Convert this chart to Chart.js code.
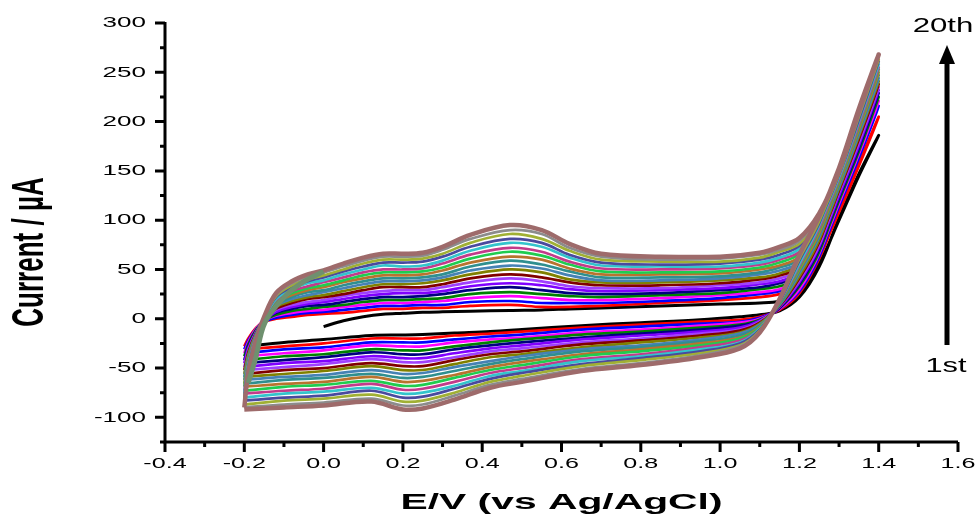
<!DOCTYPE html>
<html>
<head>
<meta charset="utf-8">
<script src="https://cdn.jsdelivr.net/npm/chart.js@4/dist/chart.umd.min.js"></script>
<style>
  html, body { margin: 0; padding: 0; background: #fff; }
  #cv { display: block; }
</style>
</head>
<body>
<canvas id="cv" width="979" height="516"></canvas>
<script>
// potentials (V) for the forward (anodic) sweep and the reverse (cathodic) sweep
const forwardPotentials = [-0.2, -0.19, -0.17, -0.15, -0.12, -0.08, -0.04, 0.0, 0.05, 0.1, 0.15, 0.2, 0.25, 0.3,
    0.37, 0.47, 0.55, 0.62, 0.7, 0.85, 1.0, 1.1, 1.15, 1.2, 1.25, 1.3, 1.35, 1.4];
const reversePotentials = [1.35, 1.3, 1.25, 1.2, 1.15, 1.1, 1.05, 0.95, 0.8, 0.65, 0.5, 0.42, 0.33, 0.25, 0.2,
    0.12, 0.0, -0.1, -0.2];

// current (uA) of each cycle, 1st to 20th, forward sweep
const forwardCurrents = [
    [null, null, null, null, null, null, null, -8, -2, 2, 4.5, 5.5, 6.5, 7, 7.5, 8.5, 9, 10, 11, 13, 15, 16, 18, 27, 56, 100, 145, 186],
    [-28, -20, -9, -3, 0, 2, 4, 5, 6, 8, 10, 10, 11, 11, 13, 14, 12, 12, 13, 16, 19, 22, 25, 33, 64, 108, 155, 205],
    [-31, -22, -10, -3, 1, 4, 6, 7, 9, 11, 13, 13, 14, 14, 17, 18, 16, 16, 16, 18, 21, 25, 28, 36, 66, 114, 163, 216],
    [-35, -24, -10, -2, 3, 6, 8, 9, 12, 14, 16, 16, 17, 18, 21, 23, 21, 19, 19, 21, 24, 27, 30, 38, 69, 117, 167, 221],
    [-38, -26, -11, -2, 4, 8, 10, 12, 14, 17, 19, 19, 20, 21, 25, 27, 25, 23, 22, 24, 26, 30, 33, 41, 71, 120, 170, 225],
    [-42, -28, -12, -2, 6, 10, 13, 14, 17, 20, 22, 22, 23, 25, 29, 32, 29, 26, 25, 26, 29, 32, 36, 44, 74, 123, 173, 229],
    [-45, -30, -13, -2, 7, 12, 15, 17, 20, 23, 25, 26, 26, 28, 33, 36, 34, 30, 28, 29, 31, 35, 38, 47, 76, 125, 176, 232],
    [-49, -32, -13, -1, 9, 14, 17, 19, 23, 26, 28, 29, 29, 32, 37, 41, 38, 33, 31, 31, 34, 37, 41, 49, 78, 128, 179, 235],
    [-52, -34, -14, -1, 10, 16, 20, 22, 25, 29, 32, 32, 32, 35, 41, 45, 42, 37, 34, 34, 36, 40, 44, 52, 81, 130, 182, 238],
    [-56, -36, -15, -1, 12, 18, 22, 24, 28, 32, 35, 35, 36, 39, 45, 50, 47, 40, 37, 37, 39, 42, 46, 55, 83, 132, 185, 241],
    [-59, -38, -15, 0, 13, 20, 24, 27, 31, 35, 38, 38, 39, 42, 49, 54, 51, 44, 39, 39, 41, 45, 49, 57, 86, 134, 187, 244],
    [-62, -40, -16, 0, 14, 22, 27, 29, 34, 38, 41, 41, 42, 45, 53, 59, 55, 48, 42, 42, 43, 47, 52, 60, 88, 136, 190, 247],
    [-66, -41, -17, 0, 16, 24, 29, 32, 37, 41, 44, 44, 45, 49, 57, 63, 60, 51, 45, 45, 46, 50, 54, 63, 90, 138, 192, 250],
    [-69, -43, -18, 0, 17, 26, 31, 34, 39, 44, 47, 47, 48, 52, 61, 68, 64, 55, 48, 47, 48, 52, 57, 66, 93, 140, 195, 253],
    [-73, -45, -18, 1, 19, 28, 33, 37, 42, 47, 50, 50, 51, 56, 65, 72, 68, 58, 51, 50, 51, 55, 60, 68, 95, 142, 197, 255],
    [-76, -47, -19, 1, 20, 30, 36, 39, 45, 50, 54, 53, 54, 59, 69, 77, 73, 62, 54, 53, 53, 57, 62, 71, 98, 144, 200, 258],
    [-80, -49, -20, 1, 22, 32, 38, 42, 48, 53, 57, 57, 58, 63, 73, 81, 77, 65, 57, 55, 56, 60, 65, 74, 100, 146, 202, 261],
    [-83, -51, -21, 1, 23, 34, 40, 44, 50, 56, 60, 60, 61, 66, 77, 86, 81, 69, 60, 58, 58, 62, 68, 76, 102, 147, 205, 263],
    [-87, -53, -21, 2, 24, 36, 43, 47, 53, 59, 63, 63, 64, 70, 81, 90, 86, 72, 63, 60, 61, 65, 70, 79, 105, 149, 207, 266],
    [-90, -55, -22, 2, 26, 38, 45, 49, 56, 62, 66, 66, 67, 73, 85, 95, 90, 76, 66, 63, 63, 67, 73, 82, 107, 150, 210, 268]
];

// current (uA) of each cycle, 1st to 20th, reverse sweep
const reverseCurrents = [
    [147, 102, 53, 22, 8, 4, 2, -1, -4, -7, -11, -13, -14.5, -16, -16.5, -17, -21, -24, -28],
    [158, 111, 61, 26, 9, 2, -1, -3, -6, -9, -13, -15, -17, -20, -20, -20, -25, -28, -31],
    [166, 117, 63, 28, 10, 1, -3, -5, -8, -11, -16, -18, -21, -24, -24, -24, -29, -31, -35],
    [170, 120, 66, 30, 10, 0, -4, -7, -11, -14, -19, -21, -24, -28, -28, -27, -32, -35, -38],
    [173, 123, 68, 33, 11, -1, -6, -9, -13, -16, -21, -24, -28, -32, -32, -31, -36, -38, -42],
    [176, 126, 71, 35, 11, -2, -7, -11, -15, -19, -24, -27, -31, -36, -36, -34, -39, -42, -45],
    [179, 128, 73, 37, 12, -2, -9, -13, -17, -21, -27, -30, -35, -40, -40, -38, -43, -45, -49],
    [182, 131, 75, 39, 13, -3, -11, -15, -20, -24, -30, -33, -39, -44, -44, -41, -46, -49, -52],
    [185, 133, 78, 41, 13, -4, -12, -17, -22, -26, -33, -36, -42, -48, -48, -45, -50, -52, -56],
    [188, 135, 80, 43, 14, -5, -14, -19, -24, -29, -36, -39, -46, -52, -52, -48, -53, -56, -59],
    [190, 137, 83, 46, 14, -6, -15, -21, -27, -31, -38, -43, -49, -55, -56, -52, -57, -59, -62],
    [193, 139, 85, 48, 15, -7, -17, -23, -29, -33, -41, -46, -53, -59, -60, -56, -60, -62, -66],
    [195, 141, 87, 50, 16, -8, -19, -25, -31, -36, -44, -49, -57, -63, -64, -59, -64, -66, -69],
    [198, 143, 90, 52, 16, -9, -20, -27, -33, -38, -47, -52, -60, -67, -68, -63, -67, -69, -73],
    [200, 145, 92, 54, 17, -10, -22, -29, -36, -41, -50, -55, -64, -71, -72, -66, -71, -73, -76],
    [203, 147, 95, 56, 18, -10, -24, -31, -38, -43, -53, -58, -68, -75, -76, -70, -74, -76, -80],
    [205, 149, 97, 59, 18, -11, -25, -33, -40, -46, -55, -61, -71, -79, -80, -73, -78, -80, -83],
    [208, 150, 99, 61, 19, -12, -27, -35, -42, -48, -58, -64, -75, -83, -84, -77, -81, -83, -87],
    [210, 152, 102, 63, 19, -13, -28, -37, -45, -51, -61, -67, -78, -87, -88, -81, -85, -87, -90],
    [213, 153, 104, 65, 20, -14, -30, -39, -47, -53, -64, -70, -82, -91, -92, -84, -88, -90, -92]
];

// short start of the next sweep, drawn over the left edge
const partialPotentials = [-0.19, -0.172, -0.148, -0.097, -0.055, 0.0];
const partialCurrents = [-65, -41, -4, 23, 36.5, 48];

const cycleColors = ['#000000', '#ff0000', '#0000ff', '#ff00ff', '#008000', '#000080', '#8000ff', '#a040ff',
    '#800000', '#808000', '#4682b4', '#2f8f8f', '#b8732e', '#1fcc4f', '#c23b8a', '#33c4cc', '#4a4a9e',
    '#a0b034', '#8c8c8c', '#9e6b6b'];

const xTickValues = [-0.4, -0.2, 0.0, 0.2, 0.4, 0.6, 0.8, 1.0, 1.2, 1.4, 1.6];
const xTickLabels = ['-0.4', '-0.2', '0.0', '0.2', '0.4', '0.6', '0.8', '1.0', '1.2', '1.4', '1.6'];
const yTickValues = [-100, -50, 0, 50, 100, 150, 200, 250, 300];
const yTickLabels = ['-100', '-50', '0', '50', '100', '150', '200', '250', '300'];

const FONT = "'Liberation Sans', Arial, Helvetica, sans-serif";

function buildCycle(k) {
    const pts = [];
    forwardPotentials.forEach((x, i) => {
        const y = forwardCurrents[k][i];
        if (y !== null) pts.push({ x: x, y: y });
    });
    reversePotentials.forEach((x, i) => {
        pts.push({ x: x, y: reverseCurrents[k][i] });
    });
    return pts;
}

const datasets = cycleColors.map((color, k) => ({
    label: (k + 1) + '',
    data: buildCycle(k),
    borderColor: color,
    borderWidth: k === 19 ? 4.5 : (k === 0 ? 3 : 2.7),
    showLine: true,
    pointRadius: 0,
    tension: 0.35,
    fill: false,
    order: 20 - k
}));

datasets.push({
    label: 'next',
    data: partialPotentials.map((x, i) => ({ x: x, y: partialCurrents[i] })),
    borderColor: '#6f906f',
    borderWidth: 5,
    showLine: true,
    pointRadius: 0,
    tension: 0.35,
    fill: false,
    order: -1
});

// text squeezed/stretched sideways like the original figure
function wideText(ctx, text, x, y, sx, align) {
    ctx.save();
    ctx.translate(x, y);
    ctx.scale(sx, 1);
    ctx.textAlign = align;
    ctx.fillText(text, 0, 0);
    ctx.restore();
}

const decorPlugin = {
    id: 'decor',
    beforeDraw(chart) {
        const ctx = chart.ctx;
        ctx.save();
        ctx.fillStyle = '#fff';
        ctx.fillRect(0, 0, chart.width, chart.height);
        ctx.restore();
    },
    afterDraw(chart) {
        const { ctx, chartArea } = chart;
        const xs = chart.scales.x, ys = chart.scales.y;
        const left = chartArea.left, bottom = chartArea.bottom;
        ctx.save();
        ctx.strokeStyle = '#000';
        ctx.fillStyle = '#000';
        ctx.lineWidth = 3;

        // axis lines
        ctx.beginPath();
        ctx.moveTo(left, chartArea.top - 1);
        ctx.lineTo(left, bottom + 1.5);
        ctx.moveTo(left - 1.5, bottom);
        ctx.lineTo(chartArea.right, bottom);
        ctx.stroke();

        // major + minor ticks
        ctx.beginPath();
        xTickValues.forEach((v, i) => {
            const px = xs.getPixelForValue(v);
            ctx.moveTo(px, bottom);
            ctx.lineTo(px, bottom + 10);
            if (i < xTickValues.length - 1) {
                const mx = xs.getPixelForValue((v + xTickValues[i + 1]) / 2);
                ctx.moveTo(mx, bottom);
                ctx.lineTo(mx, bottom + 5);
            }
        });
        yTickValues.forEach((v, i) => {
            const py = ys.getPixelForValue(v);
            ctx.moveTo(left, py);
            ctx.lineTo(left - 10, py);
            if (i < yTickValues.length - 1) {
                const my = ys.getPixelForValue((v + yTickValues[i + 1]) / 2);
                ctx.moveTo(left, my);
                ctx.lineTo(left - 5, my);
            }
        });
        const lowMinor = ys.getPixelForValue(yTickValues[0] - 25);
        ctx.moveTo(left, lowMinor);
        ctx.lineTo(left - 5, lowMinor);
        ctx.stroke();

        // tick labels
        ctx.font = '15.5px ' + FONT;
        ctx.textBaseline = 'alphabetic';
        xTickValues.forEach((v, i) => {
            wideText(ctx, xTickLabels[i], xs.getPixelForValue(v), bottom + 26, 1.62, 'center');
        });
        ctx.textBaseline = 'middle';
        yTickValues.forEach((v, i) => {
            wideText(ctx, yTickLabels[i], left - 19, ys.getPixelForValue(v), 1.68, 'right');
        });

        // x axis title
        ctx.font = 'bold 22px ' + FONT;
        ctx.textBaseline = 'alphabetic';
        const xt = 'E/V (vs Ag/AgCl)';
        const xw = ctx.measureText(xt).width;
        wideText(ctx, xt, (chartArea.left + chartArea.right) / 2, 509, 322 / xw, 'center');

        // y axis title (rotated)
        ctx.save();
        ctx.translate(43, 252);
        ctx.rotate(-Math.PI / 2);
        ctx.scale(1, 1.72);
        ctx.font = 'bold 26px ' + FONT;
        ctx.textAlign = 'center';
        ctx.textBaseline = 'alphabetic';
        ctx.fillText('Current / \u00b5A', 0, 0);
        ctx.restore();

        // cycle arrow
        ctx.font = '20px ' + FONT;
        ctx.textBaseline = 'alphabetic';
        wideText(ctx, '20th', 943, 32, 1.56, 'center');
        wideText(ctx, '1st', 946, 372, 1.54, 'center');
        ctx.lineWidth = 5;
        ctx.beginPath();
        ctx.moveTo(947, 345);
        ctx.lineTo(947, 60);
        ctx.stroke();
        ctx.beginPath();
        ctx.moveTo(947, 45);
        ctx.lineTo(955, 64);
        ctx.lineTo(939, 64);
        ctx.closePath();
        ctx.fill();

        ctx.restore();
    }
};

new Chart(document.getElementById('cv'), {
    type: 'scatter',
    data: { datasets: datasets },
    options: {
        responsive: false,
        animation: false,
        devicePixelRatio: 1,
        layout: { padding: { left: 0, right: 21, top: 23, bottom: 0 } },
        plugins: { legend: { display: false }, tooltip: { enabled: false } },
        scales: {
            x: {
                type: 'linear',
                min: -0.4,
                max: 1.6,
                grid: { display: false },
                border: { display: false },
                ticks: { display: false, stepSize: 0.2 },
                afterFit: (scale) => { scale.height = 74; }
            },
            y: {
                type: 'linear',
                min: -125,
                max: 300,
                grid: { display: false },
                border: { display: false },
                ticks: { display: false, stepSize: 50 },
                afterFit: (scale) => { scale.width = 165; }
            }
        }
    },
    plugins: [decorPlugin]
});
</script>
</body>
</html>
